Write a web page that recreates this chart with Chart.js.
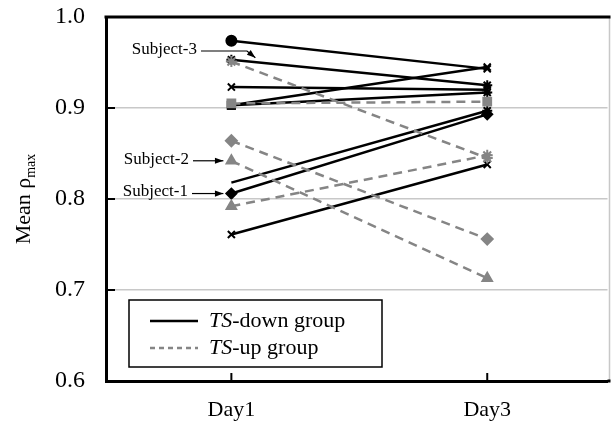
<!DOCTYPE html>
<html>
<head>
<meta charset="utf-8">
<script src="https://cdn.jsdelivr.net/npm/chart.js@4/dist/chart.umd.min.js"></script>
<style>
  html, body { margin: 0; padding: 0; background: #fff; }
</style>
</head>
<body>
<canvas id="chart" width="615" height="429"></canvas>
<script>
// categories and tick values
const days = ['Day1', 'Day3'];
const yTicks = [0.6, 0.7, 0.8, 0.9, 1.0];

// TS-down group (solid black lines), [Day1, Day3]
const down1 = [0.974, 0.943];
const down2 = [0.953, 0.925];
const down3 = [0.923, 0.920];
const down4 = [0.903, 0.945];
const down5 = [0.903, 0.917];
const down6 = [0.818, 0.897];
const down7 = [0.806, 0.893];
const down8 = [0.761, 0.838];

// TS-up group (dashed grey lines), [Day1, Day3]
const up1 = [0.951, 0.845];
const up2 = [0.905, 0.907];
const up3 = [0.864, 0.756];
const up4 = [0.842, 0.713];
const up5 = [0.792, 0.848];

const serif = '"Liberation Serif", "DejaVu Serif", serif';
const grey = '#858585';

// day index on a linear axis so the two days sit where the original puts them
function toPoints(values) {
    return values.map((v, i) => ({ x: i, y: v }));
}

function blackLine(data, style, radius) {
    return {
        data: toPoints(data),
        borderColor: '#000',
        borderWidth: 2.5,
        pointStyle: style,
        pointRadius: radius || 5,
        pointBackgroundColor: '#000',
        pointBorderColor: '#000',
        pointBorderWidth: 2,
        fill: false,
        tension: 0
    };
}

function greyLine(data, style) {
    return {
        data: toPoints(data),
        borderColor: grey,
        borderWidth: 2.5,
        borderDash: [9, 6],
        pointStyle: style,
        pointRadius: 5.5,
        pointBackgroundColor: grey,
        pointBorderColor: grey,
        pointBorderWidth: 2,
        fill: false,
        tension: 0
    };
}

// frame, inner ticks, axis title, legend box and subject labels
const extras = {
    id: 'extras',
    afterDraw(chart) {
        const ctx = chart.ctx;
        const a = chart.chartArea;
        const xs = chart.scales.x;
        const ys = chart.scales.y;
        ctx.save();

        // right edge light grey, top edge black
        ctx.strokeStyle = '#c8c8c8';
        ctx.lineWidth = 1.5;
        ctx.beginPath();
        ctx.moveTo(a.right + 2, a.top);
        ctx.lineTo(a.right + 2, a.bottom);
        ctx.stroke();
        ctx.strokeStyle = '#000';
        ctx.lineWidth = 3;
        ctx.beginPath();
        ctx.moveTo(a.left - 1.5, a.top);
        ctx.lineTo(a.right + 3, a.top);
        ctx.moveTo(a.right, a.bottom);
        ctx.lineTo(a.right + 3, a.bottom);
        ctx.stroke();

        // inward ticks
        ctx.lineWidth = 2;
        yTicks.forEach(v => {
            const y = ys.getPixelForValue(v);
            ctx.beginPath();
            ctx.moveTo(a.left, y);
            ctx.lineTo(a.left + 9, y);
            ctx.stroke();
        });
        days.forEach((d, i) => {
            const x = xs.getPixelForValue(i);
            ctx.beginPath();
            ctx.moveTo(x, a.bottom);
            ctx.lineTo(x, a.bottom - 8);
            ctx.stroke();
        });

        // y title: Mean rho_max
        ctx.fillStyle = '#000';
        ctx.translate(30, (a.top + a.bottom) / 2);
        ctx.rotate(-Math.PI / 2);
        ctx.textBaseline = 'alphabetic';
        ctx.font = '22px ' + serif;
        const main = 'Mean \u03c1';
        const wMain = ctx.measureText(main).width;
        ctx.font = '14px ' + serif;
        const wSub = ctx.measureText('max').width;
        const x0 = -(wMain + wSub) / 2;
        ctx.font = '22px ' + serif;
        ctx.fillText(main, x0, 0);
        ctx.font = '14px ' + serif;
        ctx.fillText('max', x0 + wMain, 5);
        ctx.setTransform(1, 0, 0, 1, 0, 0);

        // legend box
        ctx.strokeStyle = '#000';
        ctx.lineWidth = 1.5;
        ctx.strokeRect(129, 300, 253, 67);
        ctx.lineWidth = 2.5;
        ctx.beginPath();
        ctx.moveTo(150, 321);
        ctx.lineTo(198, 321);
        ctx.stroke();
        ctx.strokeStyle = grey;
        ctx.setLineDash([5, 4]);
        ctx.beginPath();
        ctx.moveTo(150, 348);
        ctx.lineTo(198, 348);
        ctx.stroke();
        ctx.setLineDash([]);
        ctx.textBaseline = 'middle';
        ctx.fillStyle = '#000';
        [['TS', '-down group', 321], ['TS', '-up group', 348]].forEach(([it, rest, y]) => {
            ctx.font = 'italic 22px ' + serif;
            ctx.fillText(it, 209, y);
            const w = ctx.measureText(it).width;
            ctx.font = '22px ' + serif;
            ctx.fillText(rest, 209 + w, y);
        });

        // subject labels with arrows
        const xd1 = xs.getPixelForValue(0);
        function arrow(pts) {
            ctx.strokeStyle = '#000';
            ctx.fillStyle = '#000';
            ctx.lineWidth = 1.2;
            ctx.beginPath();
            ctx.moveTo(pts[0][0], pts[0][1]);
            for (let i = 1; i < pts.length; i++) ctx.lineTo(pts[i][0], pts[i][1]);
            ctx.stroke();
            const [px, py] = pts[pts.length - 2];
            const [tx, ty] = pts[pts.length - 1];
            const ang = Math.atan2(ty - py, tx - px);
            ctx.beginPath();
            ctx.moveTo(tx, ty);
            ctx.lineTo(tx - 9 * Math.cos(ang - 0.35), ty - 9 * Math.sin(ang - 0.35));
            ctx.lineTo(tx - 9 * Math.cos(ang + 0.35), ty - 9 * Math.sin(ang + 0.35));
            ctx.closePath();
            ctx.fill();
        }
        ctx.font = '17px ' + serif;
        ctx.textAlign = 'right';
        ctx.fillStyle = '#000';

        const y3 = ys.getPixelForValue(down2[0]) - 2;
        ctx.fillText('Subject-3', 197, 50);
        arrow([[201, 51], [247, 51], [xd1 + 24, y3]]);

        const y2 = ys.getPixelForValue(up4[0]);
        ctx.fillStyle = '#000';
        ctx.fillText('Subject-2', 189, y2 - 1);
        arrow([[193, y2], [xd1 - 8, y2]]);

        const y1 = ys.getPixelForValue(down7[0]);
        ctx.fillStyle = '#000';
        ctx.fillText('Subject-1', 188, y1 - 2);
        arrow([[192, y1], [xd1 - 8, y1]]);

        ctx.restore();
    }
};

new Chart(document.getElementById('chart'), {
    type: 'line',
    data: {
        datasets: [
            greyLine(up1, 'star'),
            greyLine(up2, 'rect'),
            greyLine(up3, 'rectRot'),
            greyLine(up4, 'triangle'),
            greyLine(up5, ['triangle', 'star']),
            blackLine(down1, ['circle', 'crossRot']),
            blackLine(down2, 'star'),
            blackLine(down3, 'crossRot'),
            blackLine(down4, ['rect', 'crossRot']),
            blackLine(down5, ['rect', 'star']),
            blackLine(down6, 'star', [0, 5]),
            blackLine(down7, 'rectRot'),
            blackLine(down8, 'crossRot')
        ]
    },
    options: {
        responsive: false,
        animation: false,
        layout: { padding: { top: 17, right: 0, left: 0, bottom: 0 } },
        plugins: {
            legend: { display: false },
            tooltip: { enabled: false }
        },
        scales: {
            x: {
                type: 'linear',
                min: -0.49,
                max: 1.47,
                grid: { display: false, drawTicks: false },
                border: { color: '#000', width: 3 },
                afterBuildTicks(scale) {
                    scale.ticks = days.map((d, i) => ({ value: i }));
                },
                ticks: {
                    color: '#000',
                    padding: 16,
                    font: { family: serif, size: 22 },
                    callback: v => days[v]
                },
                afterFit(scale) {
                    scale.height = 48;
                    scale.paddingLeft = 0;
                    scale.paddingRight = 0;
                }
            },
            y: {
                min: 0.6,
                max: 1.0,
                grid: {
                    drawTicks: false,
                    lineWidth: 1.5,
                    color: c => (c.tick && c.tick.value > 0.65 && c.tick.value < 0.95) ? '#c8c8c8' : 'rgba(0,0,0,0)'
                },
                border: { color: '#000', width: 3 },
                ticks: {
                    stepSize: 0.1,
                    color: '#000',
                    padding: 21,
                    font: { family: serif, size: 24 },
                    callback: v => v.toFixed(1)
                },
                afterFit(scale) {
                    scale.width = 106;
                    scale.paddingTop = 0;
                    scale.paddingBottom = 0;
                }
            }
        }
    },
    plugins: [extras]
});
</script>
</body>
</html>
